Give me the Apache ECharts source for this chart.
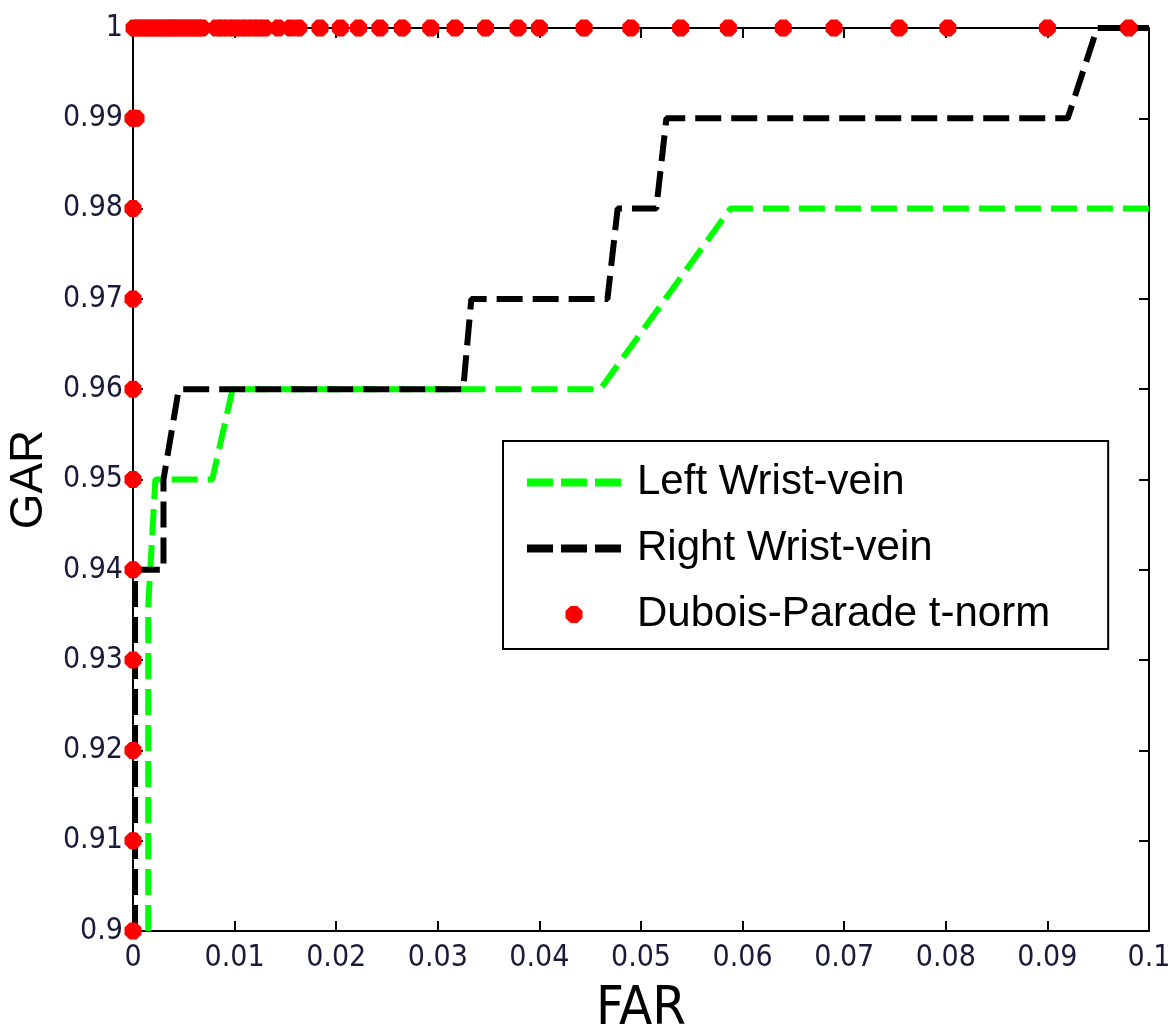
<!DOCTYPE html>
<html>
<head>
<meta charset="utf-8">
<script src="https://cdn.jsdelivr.net/npm/echarts@6/dist/echarts.min.js"></script>
<style>
html,body{margin:0;padding:0;background:#fff;}
#chart{width:1176px;height:1035px;}
</style>
</head>
<body>
<div id="chart"></div>
<script>
// ---- data ----
const seriesNames = ['Left Wrist-vein', 'Right Wrist-vein', 'Dubois-Parade t-norm'];

const leftFAR = [0.0015, 0.0015, 0.0022, 0.0078, 0.0098, 0.046, 0.0588, 0.1];
const leftGAR = [0.90, 0.936, 0.95, 0.95, 0.96, 0.96, 0.98, 0.98];

const rightFAR = [0.0002, 0.0002, 0.003, 0.003, 0.0045, 0.0325, 0.0333, 0.0467, 0.0477, 0.0515, 0.0525, 0.092, 0.0949, 0.1];
const rightGAR = [0.90, 0.94, 0.94, 0.95, 0.96, 0.96, 0.97, 0.97, 0.98, 0.98, 0.99, 0.99, 1.0, 1.0];

const fusionFAR = [
  0, 0, 0, 0, 0, 0, 0, 0, 0, 0, 0.0003,
  0.0001, 0.0005, 0.0009, 0.0013, 0.0017, 0.0021, 0.0025, 0.0029, 0.0033, 0.0037,
  0.0040, 0.0044, 0.0048, 0.0052, 0.0056, 0.0060, 0.0064, 0.0068,
  0.0082, 0.0088, 0.0094, 0.0100, 0.0106, 0.0112, 0.0118, 0.0124, 0.0130,
  0.0143, 0.0155, 0.0163, 0.0184, 0.0204, 0.0222, 0.0243, 0.0265, 0.0293,
  0.0317, 0.0347, 0.0379, 0.0400, 0.0444, 0.0490, 0.0539, 0.0586, 0.0640,
  0.0690, 0.0754, 0.0802, 0.0900, 0.0980
];
const fusionGAR = [
  0.90, 0.91, 0.92, 0.93, 0.94, 0.95, 0.96, 0.97, 0.98, 0.99, 0.99,
  1, 1, 1, 1, 1, 1, 1, 1, 1, 1,
  1, 1, 1, 1, 1, 1, 1, 1,
  1, 1, 1, 1, 1, 1, 1, 1, 1,
  1, 1, 1, 1, 1, 1, 1, 1, 1,
  1, 1, 1, 1, 1, 1, 1, 1, 1,
  1, 1, 1, 1, 1
];

const xTicks = [0, 0.01, 0.02, 0.03, 0.04, 0.05, 0.06, 0.07, 0.08, 0.09, 0.1];
const yTicks = [0.9, 0.91, 0.92, 0.93, 0.94, 0.95, 0.96, 0.97, 0.98, 0.99, 1];
const xTitle = 'FAR';
const yTitle = 'GAR';

// ---- chart ----
const zip = (a, b) => a.map((v, i) => [v, b[i]]);
const fmt = v => String(parseFloat(Number(v).toFixed(3)));
const FONT = '"Liberation Sans", Arial, sans-serif';
const NARROW = '"Liberation Sans Narrow", "Arial Narrow", "DejaVu Sans Condensed", sans-serif';
const markerPath = 'path://M3,0H7L10,3V7L7,10H3L0,7V3Z';
const dashIcon = 'path://M0,0H26V8H0Z M34,0H60V8H34Z M68,0H94V8H68Z';

const axisLineStyle = { color: '#000', width: 2 };
const tickStyle = { show: true, inside: true, length: 10, lineStyle: { color: '#000', width: 2 } };
const labelStyle = { fontFamily: NARROW, fontSize: 30, color: '#1a1a3a' };

const chart = echarts.init(document.getElementById('chart'), null, { renderer: 'canvas' });
chart.setOption({
  backgroundColor: '#ffffff',
  animation: false,
  grid: { left: 133, right: 27, top: 28, bottom: 104, containLabel: false, outerBoundsMode: 'none' },
  legend: {
    orient: 'vertical',
    left: 503,
    top: 441,
    padding: [19, 58, 12, 24],
    itemWidth: 94,
    itemHeight: 17,
    itemGap: 21,
    borderColor: '#000',
    borderWidth: 2,
    backgroundColor: '#fff',
    textStyle: { fontFamily: FONT, fontSize: 42, color: '#000', lineHeight: 45, padding: [0, 0, 0, 11] },
    data: [
      { name: seriesNames[0], icon: dashIcon, itemStyle: { color: '#00ff00', opacity: 1 } },
      { name: seriesNames[1], icon: dashIcon, itemStyle: { color: '#000000', opacity: 1 } },
      { name: seriesNames[2], icon: markerPath, itemStyle: { color: '#ff0000', opacity: 1 } }
    ]
  },
  xAxis: [
    {
      type: 'value', min: 0, max: 0.1, interval: 0.01,
      name: xTitle, nameLocation: 'middle', nameGap: 52,
      nameTextStyle: { fontFamily: NARROW, fontSize: 54, color: '#000' },
      axisLine: { show: true, onZero: false, lineStyle: axisLineStyle },
      axisTick: tickStyle,
      axisLabel: Object.assign({ margin: 12, formatter: fmt }, labelStyle),
      splitLine: { show: false }
    },
    {
      type: 'value', min: 0, max: 0.1, interval: 0.01, position: 'top',
      axisLine: { show: true, onZero: false, lineStyle: axisLineStyle },
      axisTick: tickStyle,
      axisLabel: { show: false },
      splitLine: { show: false }
    }
  ],
  yAxis: [
    {
      type: 'value', min: 0.9, max: 1, interval: 0.01,
      name: yTitle, nameLocation: 'middle', nameGap: 80, nameRotate: 90,
      nameTextStyle: { fontFamily: FONT, fontSize: 46, color: '#000' },
      axisLine: { show: true, onZero: false, lineStyle: axisLineStyle },
      axisTick: tickStyle,
      axisLabel: Object.assign({ margin: 10, formatter: fmt }, labelStyle),
      splitLine: { show: false }
    },
    {
      type: 'value', min: 0.9, max: 1, interval: 0.01, position: 'right',
      axisLine: { show: true, onZero: false, lineStyle: axisLineStyle },
      axisTick: tickStyle,
      axisLabel: { show: false },
      splitLine: { show: false }
    }
  ],
  series: [
    {
      name: seriesNames[0], type: 'line', data: zip(leftFAR, leftGAR),
      symbol: 'none', clip: false, z: 3,
      lineStyle: { color: '#00ff00', width: 6, type: [26, 10] },
      itemStyle: { color: '#00ff00' }
    },
    {
      name: seriesNames[1], type: 'line', data: zip(rightFAR, rightGAR),
      symbol: 'none', clip: false, z: 4,
      lineStyle: { color: '#000000', width: 6, type: [26, 10] },
      itemStyle: { color: '#000000' }
    },
    {
      name: seriesNames[2], type: 'scatter', data: zip(fusionFAR, fusionGAR),
      symbol: markerPath, symbolSize: 17, clip: false, z: 5,
      itemStyle: { color: '#ff0000', opacity: 1 }
    }
  ]
});
</script>
</body>
</html>
